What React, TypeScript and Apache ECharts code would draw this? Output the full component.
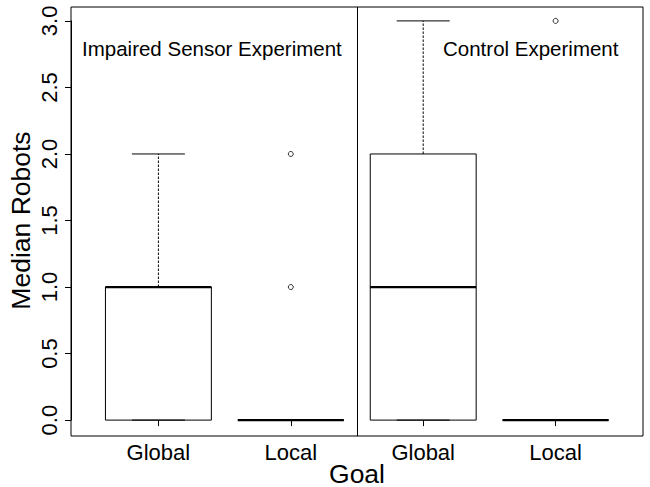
import React, { useEffect, useRef } from "react";
import * as echarts from "echarts";

// ---- data ----
const groups = ["Global", "Local", "Global", "Local"];
const whiskerLow = [0, 0, 0, 0];
const lowerQuartile = [0, 0, 0, 0];
const medians = [1, 0, 1, 0];
const upperQuartile = [1, 0, 2, 0];
const whiskerHigh = [2, 0, 3, 0];
// outliers: [group index, value]
const outlierGroup = [1, 1, 3];
const outlierValue = [1, 2, 3];
const yTicks = [0, 0.5, 1, 1.5, 2, 2.5, 3];
const panelLabels = ["Impaired Sensor Experiment", "Control Experiment"];
const xTitle = "Goal";
const yTitle = "Median Robots";

const FONT = "'Liberation Sans', Arial, Helvetica, sans-serif";

export default function App() {
  const ref = useRef<HTMLDivElement>(null);
  useEffect(() => {
    if (!ref.current) return;
    const chart = echarts.init(ref.current, null, { renderer: "svg" });
    const boxData = groups.map((_, i) => [
      i,
      whiskerLow[i],
      lowerQuartile[i],
      medians[i],
      upperQuartile[i],
      whiskerHigh[i],
    ]);
    const outliers = outlierGroup.map((g, i) => [g, outlierValue[i]]);

    const option: any = {
      animation: false,
      backgroundColor: "#fff",
      textStyle: { fontFamily: FONT, color: "#000" },
      grid: {
        left: 92.2,
        right: 28.2,
        top: 20.9,
        bottom: 66.9,
        containLabel: false,
        outerBoundsMode: "none",
      },
      xAxis: {
        type: "category",
        data: groups,
        offset: 15.9,
        axisLine: { show: false },
        axisTick: { show: true, alignWithLabel: true, length: 6, lineStyle: { color: "#000" } },
        axisLabel: { fontSize: 22, color: "#000", fontFamily: FONT, margin: 5 },
        name: xTitle,
        nameLocation: "middle",
        nameGap: 24,
        nameMoveOverlap: false,
        nameTextStyle: { fontSize: 26.5, color: "#000", fontFamily: FONT },
        splitLine: { show: false },
      },
      yAxis: {
        type: "value",
        min: 0,
        max: 3,
        interval: 0.5,
        offset: 21.2,
        axisLine: { show: true, lineStyle: { color: "#000" } },
        axisTick: { show: true, length: 6, lineStyle: { color: "#000" } },
        axisLabel: {
          rotate: 90,
          fontSize: 22,
          color: "#000",
          fontFamily: FONT,
          margin: 11,
          formatter: (v: number) => (yTicks.includes(v) ? v.toFixed(1) : ""),
        },
        name: yTitle,
        nameLocation: "middle",
        nameGap: 37,
        nameMoveOverlap: false,
        nameTextStyle: { fontSize: 26.5, color: "#000", fontFamily: FONT },
        splitLine: { show: false },
      },
      graphic: [
        {
          type: "rect",
          shape: { x: 71, y: 7, width: 572, height: 429 },
          style: { fill: "none", stroke: "#000", lineWidth: 1 },
          silent: true,
        },
        {
          type: "line",
          shape: { x1: 357.5, y1: 7, x2: 357.5, y2: 436 },
          style: { stroke: "#000", lineWidth: 1 },
          silent: true,
        },
        {
          type: "text",
          x: 82,
          y: 48,
          style: {
            text: panelLabels[0],
            fontSize: 20.5,
            fontFamily: FONT,
            fill: "#000",
            textVerticalAlign: "middle",
          },
          silent: true,
        },
        {
          type: "text",
          x: 443,
          y: 48,
          style: {
            text: panelLabels[1],
            fontSize: 20.5,
            fontFamily: FONT,
            fill: "#000",
            textVerticalAlign: "middle",
          },
          silent: true,
        },
      ],
      series: [
        {
          type: "custom",
          clip: false,
          data: boxData,
          renderItem: (params: any, api: any) => {
            const idx = api.value(0);
            const lo = api.value(1);
            const q1 = api.value(2);
            const med = api.value(3);
            const q3 = api.value(4);
            const hi = api.value(5);
            const band = api.size([1, 0])[0];
            const boxW = band * 0.8;
            const capW = band * 0.4;
            const cx = api.coord([idx, med])[0];
            const y = (v: number) => api.coord([idx, v])[1];
            const children: any[] = [];
            const dash = { stroke: "#000", lineWidth: 1, lineDash: [2.5, 1.5], fill: "none" };
            const solid = { stroke: "#000", lineWidth: 1, fill: "none" };
            if (hi > q3) {
              children.push({ type: "line", shape: { x1: cx, y1: y(q3), x2: cx, y2: y(hi) }, style: dash });
            }
            if (lo < q1) {
              children.push({ type: "line", shape: { x1: cx, y1: y(lo), x2: cx, y2: y(q1) }, style: dash });
            }
            children.push({ type: "line", shape: { x1: cx - capW / 2, y1: y(hi), x2: cx + capW / 2, y2: y(hi) }, style: solid });
            children.push({ type: "line", shape: { x1: cx - capW / 2, y1: y(lo), x2: cx + capW / 2, y2: y(lo) }, style: solid });
            children.push({
              type: "rect",
              shape: { x: cx - boxW / 2, y: y(q3), width: boxW, height: y(q1) - y(q3) },
              style: solid,
            });
            children.push({
              type: "line",
              shape: { x1: cx - boxW / 2, y1: y(med), x2: cx + boxW / 2, y2: y(med) },
              style: { stroke: "#000", lineWidth: 2.25 },
            });
            return { type: "group", children };
          },
        },
        {
          type: "scatter",
          data: outliers,
          symbol: "circle",
          symbolSize: 5,
          itemStyle: { color: "#fff", borderColor: "#000", borderWidth: 1 },
        },
      ],
    };
    chart.setOption(option);
    return () => chart.dispose();
  }, []);
  return (
    <div
      ref={ref}
      style={{ position: "fixed", left: 0, top: 0, width: 650, height: 487, background: "#fff" }}
    />
  );
}
